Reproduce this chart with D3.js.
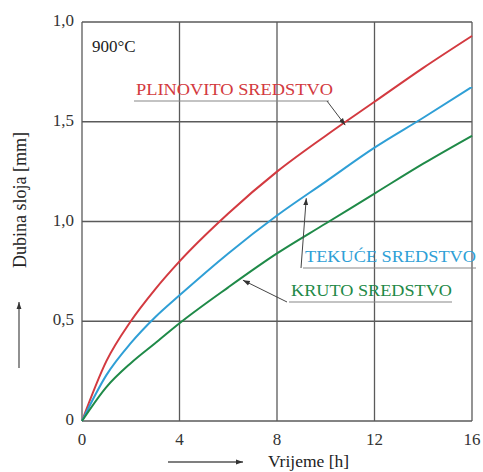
<!DOCTYPE html>
<html>
<head>
<meta charset="utf-8">
<script src="https://cdn.jsdelivr.net/npm/d3@7"></script>
<style>
  body { margin: 0; background: #fff; }
</style>
</head>
<body>
<div id="chart"></div>
<script>
// hours
const hours = [0, 1, 2, 3, 4, 6, 8, 10, 12, 14, 16];
// case depth [mm]
const plinovito = [0, 0.30, 0.50, 0.66, 0.80, 1.04, 1.25, 1.43, 1.60, 1.77, 1.93];
const tekuce = [0, 0.23, 0.39, 0.52, 0.63, 0.84, 1.03, 1.20, 1.37, 1.52, 1.675];
const kruto = [0, 0.17, 0.29, 0.39, 0.49, 0.67, 0.84, 0.99, 1.14, 1.29, 1.43];

const xTicks = [0, 4, 8, 12, 16];
const yTicks = [0, 0.5, 1.0, 1.5, 2.0];
const yTickLabels = ["0", "0,5", "1,0", "1,5", "1,0"];

const series = [
  { name: "PLINOVITO SREDSTVO", values: plinovito, color: "#d33a40" },
  { name: "TEKUĆE SREDSTVO", values: tekuce, color: "#2f9fd6" },
  { name: "KRUTO SREDSTVO", values: kruto, color: "#1f8a48" },
];

const width = 483, height = 472;
const margin = { top: 22, right: 11, bottom: 51, left: 82 };
const serif = "'Liberation Serif', 'Times New Roman', 'DejaVu Serif', serif";

const svg = d3.select("#chart").append("svg")
  .attr("width", width).attr("height", height)
  .attr("font-family", serif);

const x = d3.scaleLinear().domain([0, 16]).range([margin.left, width - margin.right]);
const y = d3.scaleLinear().domain([0, 2]).range([height - margin.bottom, margin.top]);

const gridColor = "#5a5a5a";

// grid
svg.append("g").selectAll("line").data(xTicks).join("line")
  .attr("x1", d => x(d)).attr("x2", d => x(d))
  .attr("y1", y(0)).attr("y2", y(2))
  .attr("stroke", gridColor).attr("stroke-width", 1.3);
svg.append("g").selectAll("line").data(yTicks).join("line")
  .attr("x1", x(0)).attr("x2", x(16))
  .attr("y1", d => y(d)).attr("y2", d => y(d))
  .attr("stroke", gridColor).attr("stroke-width", 1.3);

// tick labels
svg.append("g").selectAll("text").data(xTicks).join("text")
  .attr("x", d => x(d)).attr("y", y(0) + 24)
  .attr("text-anchor", "middle").attr("font-size", 17).attr("fill", "#333")
  .text(d => d);
svg.append("g").selectAll("text").data(yTicks).join("text")
  .attr("x", x(0) - 8).attr("y", d => y(d) + 4)
  .attr("text-anchor", "end").attr("font-size", 17).attr("fill", "#333")
  .text((d, i) => yTickLabels[i]);

// curves
const line = d3.line()
  .x((d, i) => x(hours[i]))
  .y(d => y(d))
  .curve(d3.curveMonotoneX);

svg.append("g").selectAll("path").data(series).join("path")
  .attr("d", d => line(d.values))
  .attr("fill", "none")
  .attr("stroke", d => d.color)
  .attr("stroke-width", 2);

// arrow marker
svg.append("defs").append("marker")
  .attr("id", "arr")
  .attr("viewBox", "0 0 10 10")
  .attr("refX", 10).attr("refY", 5)
  .attr("markerWidth", 7).attr("markerHeight", 7)
  .attr("markerUnits", "userSpaceOnUse")
  .attr("orient", "auto")
  .append("path").attr("d", "M0,1.5 L10,5 L0,8.5 Z").attr("fill", "#333");

// series labels with leader lines
const labels = [
  { s: 0, tx: 136, ty: 95, len: 197, ux2: 329, tip: 10.8, from: "right" },
  { s: 1, tx: 305, ty: 262, len: 171, ux2: 476, tip: 9.2, from: "left" },
  { s: 2, tx: 291, ty: 296, len: 161, ux2: 452, tip: 6.6, from: "left" },
];

function valueAt(vals, t) {
  return d3.scaleLinear().domain(hours).range(vals)(t);
}

labels.forEach(l => {
  const s = series[l.s];
  svg.append("text")
    .attr("x", l.tx).attr("y", l.ty)
    .attr("font-size", 17.5).attr("fill", s.color)
    .attr("textLength", l.len).attr("lengthAdjust", "spacingAndGlyphs")
    .text(s.name);
  const uy = l.ty + 6;
  const tipX = x(l.tip), tipY = y(valueAt(s.values, l.tip)) + 3;
  svg.append("line")
    .attr("x1", l.tx - 2).attr("x2", l.ux2)
    .attr("y1", uy).attr("y2", uy)
    .attr("stroke", "#888").attr("stroke-width", 1.2);
  const startX = l.from === "right" ? l.ux2 - 2 : l.tx - 4;
  svg.append("line")
    .attr("x1", startX).attr("y1", uy)
    .attr("x2", tipX).attr("y2", tipY)
    .attr("stroke", "#444").attr("stroke-width", 1)
    .attr("marker-end", "url(#arr)");
});

// temperature note
svg.append("text")
  .attr("x", x(0) + 10).attr("y", y(2) + 30)
  .attr("font-size", 17).attr("fill", "#222")
  .text("900°C");

// axis titles
svg.append("text")
  .attr("transform", `translate(26,200) rotate(-90)`)
  .attr("text-anchor", "middle").attr("font-size", 18).attr("fill", "#222")
  .text("Dubina sloja [mm]");
svg.append("line")
  .attr("x1", 19).attr("x2", 19).attr("y1", 368).attr("y2", 302)
  .attr("stroke", "#555").attr("stroke-width", 1.3)
  .attr("marker-end", "url(#arr)");

svg.append("text")
  .attr("x", 268).attr("y", 467)
  .attr("font-size", 17.5).attr("fill", "#222")
  .text("Vrijeme [h]");
svg.append("line")
  .attr("x1", 168).attr("x2", 243).attr("y1", 462).attr("y2", 462)
  .attr("stroke", "#555").attr("stroke-width", 1.3)
  .attr("marker-end", "url(#arr)");
</script>
</body>
</html>
